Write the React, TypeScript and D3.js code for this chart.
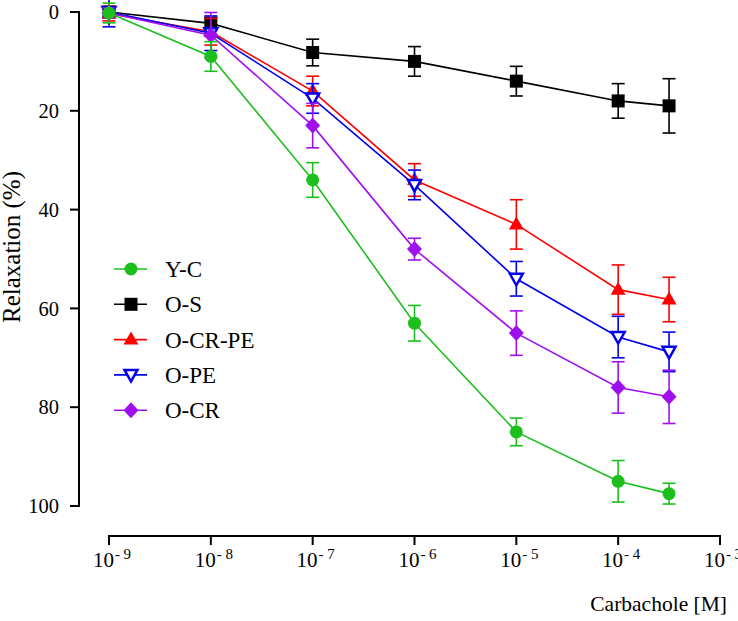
import React from "react";
import * as d3 from "d3";

const doses = [1e-9, 1e-8, 1e-7, 1e-6, 1e-5, 1e-4, 3.16e-4];
const xTicks = [-9, -8, -7, -6, -5, -4, -3];
const yTicks = [0, 20, 40, 60, 80, 100];

const ycMean = [0.2, 9, 34, 63, 85, 95, 97.5];
const ycErr = [2, 3, 3.5, 3.6, 2.8, 4.2, 2.1];
const osMean = [0, 2.3, 8.2, 10, 14, 18, 19];
const osErr = [1, 1.2, 2.7, 3, 3, 3.5, 5.5];
const ocrpeMean = [0.3, 4, 16, 34, 43, 56.2, 58.2];
const ocrpeErr = [1.5, 2.7, 3, 3.3, 5, 5, 4.5];
const opeMean = [0, 4.3, 17.5, 35, 54, 65.8, 68.8];
const opeErr = [3, 3.5, 3, 3, 3.5, 4.2, 4];
const ocrMean = [0.2, 4.7, 23, 48, 65, 76, 77.9];
const ocrErr = [1, 4.6, 4.5, 2.2, 4.5, 5.2, 5.4];

const seriesNames = ["Y-C", "O-S", "O-CR-PE", "O-PE", "O-CR"];
const seriesColors = ["#1dbf1d", "#000000", "#ff0000", "#0000ee", "#a010ee"];
const seriesShapes = ["circle", "square", "triangle", "itriangle", "diamond"];
const seriesMeans = [ycMean, osMean, ocrpeMean, opeMean, ocrMean];
const seriesErrs = [ycErr, osErr, ocrpeErr, opeErr, ocrErr];
const drawOrder = [1, 2, 3, 4, 0];

const FONT = "Liberation Serif, Times New Roman, serif";
const ts = { fontFamily: FONT };

function Marker({ shape, x, y, color }: { shape: string; x: number; y: number; color: string }) {
  if (shape === "circle") return <circle cx={x} cy={y} r={6.5} fill={color} />;
  if (shape === "square") return <rect x={x - 6.5} y={y - 6.5} width={13} height={13} fill={color} />;
  if (shape === "triangle") {
    const p = `${x},${y - 8} ${x + 7.5},${y + 5} ${x - 7.5},${y + 5}`;
    return <polygon points={p} fill={color} />;
  }
  if (shape === "itriangle") {
    const p = `${x - 6.5},${y - 5} ${x + 6.5},${y - 5} ${x},${y + 6.5}`;
    return <polygon points={p} fill="#ffffff" stroke={color} strokeWidth={2.5} />;
  }
  const p = `${x},${y - 8} ${x + 7.5},${y} ${x},${y + 8} ${x - 7.5},${y}`;
  return <polygon points={p} fill={color} />;
}

export default function App() {
  const x = d3.scaleLog().domain([1e-9, 1e-3]).range([109, 720]);
  const y = d3.scaleLinear().domain([0, 100]).range([12, 506]);
  const line = d3
    .line<number>()
    .x((_, i) => x(doses[i]))
    .y((v) => y(v));
  const capW = 6.5;
  const xAxisY = 536;
  const yAxisX = 79;

  return (
    <svg width={738} height={621} style={{ position: "absolute", left: 0, top: 0, background: "#fff" }}>
      <rect x={0} y={0} width={738} height={621} fill="#fff" />
      {/* Y axis */}
      <line x1={yAxisX} x2={yAxisX} y1={y(0) - 1} y2={y(100) + 1} stroke="#000" strokeWidth={2} />
      {yTicks.map((t) => (
        <g key={t}>
          <line x1={yAxisX - 9} x2={yAxisX} y1={y(t)} y2={y(t)} stroke="#000" strokeWidth={2} />
          <text x={59} y={y(t)} dy="0.35em" textAnchor="end" fontSize={20.5} style={ts}>
            {t}
          </text>
        </g>
      ))}
      <text transform={`translate(20,247) rotate(-90)`} textAnchor="middle" fontSize={25} style={ts}>
        Relaxation (%)
      </text>
      {/* X axis */}
      <line x1={x(1e-9) - 1} x2={x(1e-3) + 1} y1={xAxisY} y2={xAxisY} stroke="#000" strokeWidth={2} />
      {xTicks.map((e) => (
        <g key={e}>
          <line x1={x(Math.pow(10, e))} x2={x(Math.pow(10, e))} y1={xAxisY} y2={xAxisY + 9} stroke="#000" strokeWidth={2} />
          <text x={x(Math.pow(10, e)) + 3} y={567} textAnchor="middle" fontSize={21} style={ts}>
            10
            <tspan fontSize={15} dy={-8} dx={1}>
              {"- " + String(-e)}
            </tspan>
          </text>
        </g>
      ))}
      <text x={727} y={611} textAnchor="end" fontSize={21.5} style={ts}>
        Carbachole [M]
      </text>
      {/* Series */}
      {drawOrder.map((si) => {
        const means = seriesMeans[si];
        const errs = seriesErrs[si];
        const color = seriesColors[si];
        return (
          <g key={si}>
            <path d={line(means) || ""} fill="none" stroke={color} strokeWidth={1.6} />
            {means.map((m, i) => {
              const cx = x(doses[i]);
              const y1 = y(m - errs[i]);
              const y2 = y(m + errs[i]);
              return (
                <g key={i} stroke={color} strokeWidth={1.6}>
                  <line x1={cx} x2={cx} y1={y1} y2={y2} />
                  <line x1={cx - capW} x2={cx + capW} y1={y1} y2={y1} />
                  <line x1={cx - capW} x2={cx + capW} y1={y2} y2={y2} />
                </g>
              );
            })}
            {means.map((m, i) => (
              <Marker key={"m" + i} shape={seriesShapes[si]} x={x(doses[i])} y={y(m)} color={color} />
            ))}
          </g>
        );
      })}
      {/* Legend */}
      {seriesNames.map((n, i) => {
        const ly = 269 + i * 35.3;
        return (
          <g key={n}>
            <line x1={114} x2={147} y1={ly} y2={ly} stroke={seriesColors[i]} strokeWidth={1.6} />
            <Marker shape={seriesShapes[i]} x={131} y={ly} color={seriesColors[i]} />
            <text x={165} y={ly} dy="0.35em" fontSize={23} style={ts}>
              {n}
            </text>
          </g>
        );
      })}
    </svg>
  );
}
